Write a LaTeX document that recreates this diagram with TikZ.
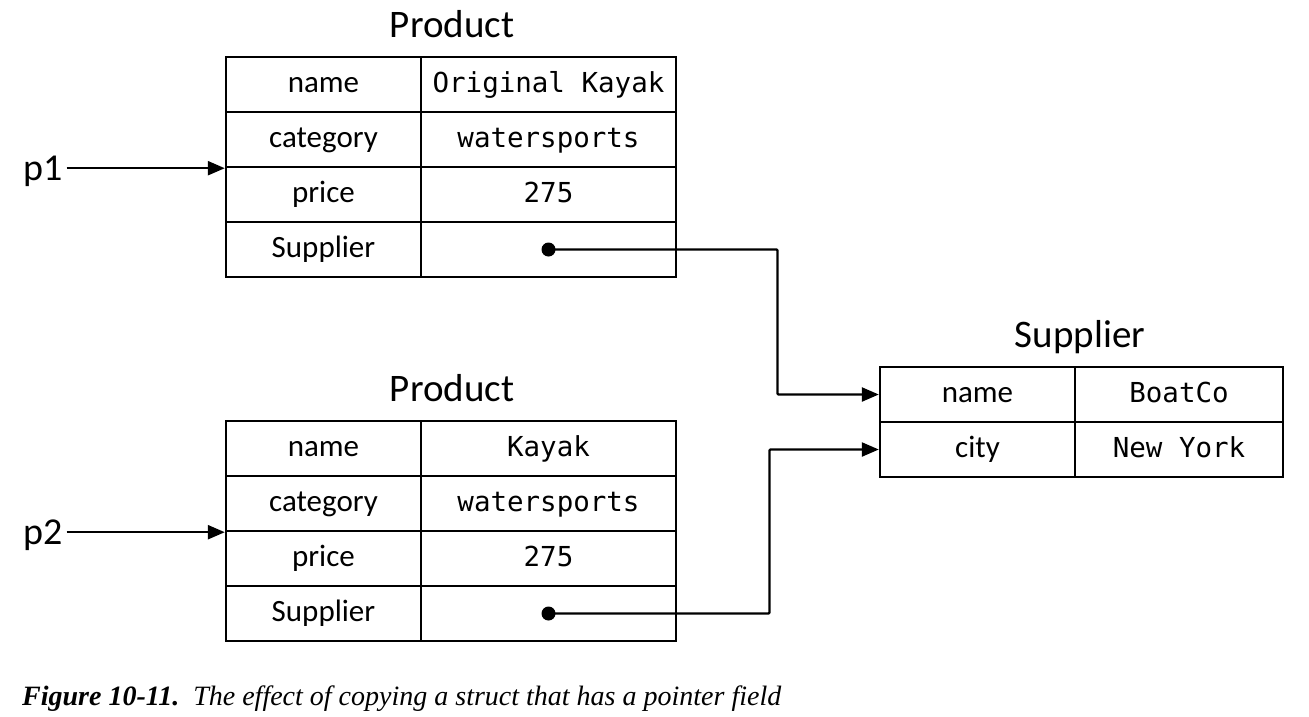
\documentclass[tikz,border=0pt]{standalone}
\usepackage{fontspec}
\newfontfamily\labfont{Carlito}
\newfontfamily\monofont{DejaVu Sans Mono}
\setmainfont{Liberation Serif}
\usetikzlibrary{arrows.meta}
\tikzset{
  cell/.style={draw, line width=2.4pt, minimum height=55pt, inner sep=0pt, anchor=center, text height=15pt, text depth=0pt},
  kcell/.style={cell, minimum width=195pt, font=\labfont\fontsize{31}{36}\selectfont},
  vcell/.style={cell, font=\monofont\fontsize{27.5}{33}\selectfont},
  title/.style={font=\labfont\fontsize{39}{46}\selectfont, anchor=base},
  ptr/.style={line width=2.4pt, -{Triangle[length=17pt,width=14pt]}},
  conn/.style={ptr, rounded corners=1pt},
  dot/.style={circle, fill=black, inner sep=0pt, minimum size=14pt}
}
\begin{document}
\begin{tikzpicture}[x=1pt,y=-1pt]
\useasboundingbox (0,0) rectangle (1309,716);
% Top product
\node[title] (t1) at (452,37) {Product};
\node[kcell] (t1nk) at (323.5,84.5) {name};
\node[vcell, minimum width=255pt] (t1nv) at (548.5,84.5) {Original Kayak};
\node[kcell] (t1ck) at (323.5,139.5) {category};
\node[vcell, minimum width=255pt] (t1cv) at (548.5,139.5) {watersports};
\node[kcell] (t1pk) at (323.5,194.5) {price};
\node[vcell, minimum width=255pt] (t1pv) at (548.5,194.5) {275};
\node[kcell] (t1sk) at (323.5,249.5) {Supplier};
\node[vcell, minimum width=255pt] (t1sv) at (548.5,249.5) {};
% Bottom product
\node[title] (t2) at (452,401) {Product};
\node[kcell] (t2nk) at (323.5,448.5) {name};
\node[vcell, minimum width=255pt] (t2nv) at (548.5,448.5) {Kayak};
\node[kcell] (t2ck) at (323.5,503.5) {category};
\node[vcell, minimum width=255pt] (t2cv) at (548.5,503.5) {watersports};
\node[kcell] (t2pk) at (323.5,558.5) {price};
\node[vcell, minimum width=255pt] (t2pv) at (548.5,558.5) {275};
\node[kcell] (t2sk) at (323.5,613.5) {Supplier};
\node[vcell, minimum width=255pt] (t2sv) at (548.5,613.5) {};
% Supplier
\node[title] (s) at (1080,347) {Supplier};
\node[kcell] (snk) at (977.5,394.5) {name};
\node[vcell, minimum width=208pt] (snv) at (1179,394.5) {BoatCo};
\node[kcell] (sck) at (977.5,449.5) {city};
\node[vcell, minimum width=208pt] (scv) at (1179,449.5) {New York};
% pointers
\node[font=\labfont\fontsize{38}{44}\selectfont, anchor=base west, inner sep=4pt] (p1) at (19,180) {p1};
\node[font=\labfont\fontsize{38}{44}\selectfont, anchor=base west, inner sep=4pt] (p2) at (19,544) {p2};
\draw[ptr] (p1.east |- t1ck.south west) -- (t1ck.south west);
\draw[ptr] (p2.east |- t2ck.south west) -- (t2ck.south west);
\node[dot] (d1) at (t1sv.center) {};
\node[dot] (d2) at (t2sv.center) {};
\draw[conn] (d1.center) -- ++(229,0) |- (snk.west);
\draw[conn] (d2.center) -- ++(221,0) |- (sck.west);
% caption
\node[anchor=base west, inner sep=0pt, font=\fontsize{28}{32}\selectfont] (cap) at (22,705)
  {\textbf{\textit{Figure 10-11.}}\hspace{0.5em}\textit{The effect of copying a struct that has a pointer field}};
\end{tikzpicture}
\end{document}
